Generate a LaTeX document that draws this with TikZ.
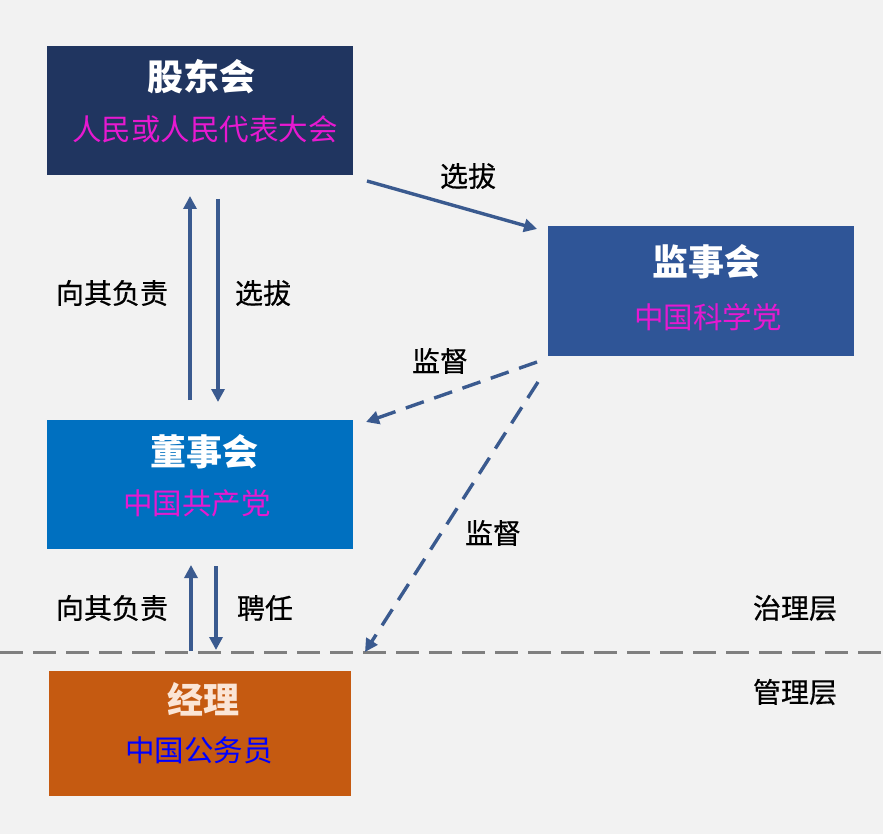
\documentclass[tikz,border=0pt]{standalone}
\usepackage{fontspec}
\setmainfont{Noto Sans CJK SC}
\usetikzlibrary{arrows.meta}
\definecolor{bg}{HTML}{F2F2F2}
\definecolor{navy}{HTML}{203560}
\definecolor{midblue}{HTML}{2F5597}
\definecolor{brightblue}{HTML}{0070C0}
\definecolor{rust}{HTML}{C55A11}
\definecolor{arrowblue}{HTML}{3A5A8F}
\definecolor{magentatxt}{HTML}{E619D0}
\definecolor{cream}{HTML}{FBE5D6}
\definecolor{linegray}{HTML}{7F7F7F}
\tikzset{
  box/.style={draw=none, minimum width=306pt, minimum height=129pt, inner sep=0pt},
  titletxt/.style={font=\fontsize{36}{40}\selectfont\bfseries, text=white},
  subtxt/.style={font=\fontsize{29.5}{34}\selectfont, text=magentatxt},
  lbl/.style={font=\fontsize{28}{32}\selectfont\addfontfeature{FakeBold=0.6}, text=black},
  conn/.style={draw=arrowblue, line width=3.4pt, -{Triangle[length=13pt,width=13pt]}},
  dconn/.style={conn, dash pattern=on 19pt off 11pt},
}
\begin{document}
\begin{tikzpicture}[x=1pt,y=-1pt]
\fill[bg] (0,0) rectangle (883,834);
\useasboundingbox (0,0) rectangle (883,834);
% boxes
\node[box, fill=navy] (gd) at (200,110.5) {};
\node[box, fill=midblue] (js) at (701,291) {};
\node[box, fill=brightblue] (ds) at (200,484.5) {};
\node[box, fill=rust, minimum width=302pt, minimum height=125pt] (jl) at (200,733.5) {};
% box texts
\node[titletxt] (gdt) at (201,77) {股东会};
\node[subtxt] (gds) at (205,129) {人民或人民代表大会};
\node[titletxt] (jst) at (706,262) {监事会};
\node[subtxt] (jss) at (708,317) {中国科学党};
\node[titletxt] (dst) at (204,452) {董事会};
\node[subtxt] (dss) at (197,503) {中国共产党};
\node[titletxt, text=cream] (jlt) at (203,699) {经理};
\node[subtxt, text=blue] (jls) at (199,750) {中国公务员};
% divider
\coordinate (dl) at (0,652);
\coordinate (dr) at (883,652);
\draw[linegray, line width=3pt, dash pattern=on 23pt off 10pt] (dl) -- (dr);
% connectors
\coordinate (a1s) at (367,181);
\coordinate (a1e) at (537,229);
\draw[conn] (a1s) -- (a1e);
\coordinate (u1s) at (190,400); \coordinate (u1e) at (190,196);
\draw[conn] (u1s) -- (u1e);
\coordinate (d1s) at (218,199); \coordinate (d1e) at (218,402);
\draw[conn] (d1s) -- (d1e);
\coordinate (u2s) at (191,651); \coordinate (u2e) at (191,565);
\draw[conn] (u2s) -- (u2e);
\coordinate (d2s) at (216,566); \coordinate (d2e) at (216,650);
\draw[conn] (d2s) -- (d2e);
\coordinate (m1s) at (537,362); \coordinate (m1e) at (366,422);
\draw[dconn] (m1s) -- (m1e);
\coordinate (m2s) at (538,382); \coordinate (m2e) at (365,652);
\draw[dconn] (m2s) -- (m2e);
% labels
\node[lbl] (l1) at (468,176) {选拔};
\node[lbl] (l2) at (112,293) {向其负责};
\node[lbl] (l3) at (263,293) {选拔};
\node[lbl] (l4) at (440,361) {监督};
\node[lbl] (l5) at (493,533) {监督};
\node[lbl] (l6) at (112,608) {向其负责};
\node[lbl] (l7) at (265,608) {聘任};
\node[lbl] (l8) at (795,608) {治理层};
\node[lbl] (l9) at (795,692) {管理层};
\end{tikzpicture}
\end{document}
